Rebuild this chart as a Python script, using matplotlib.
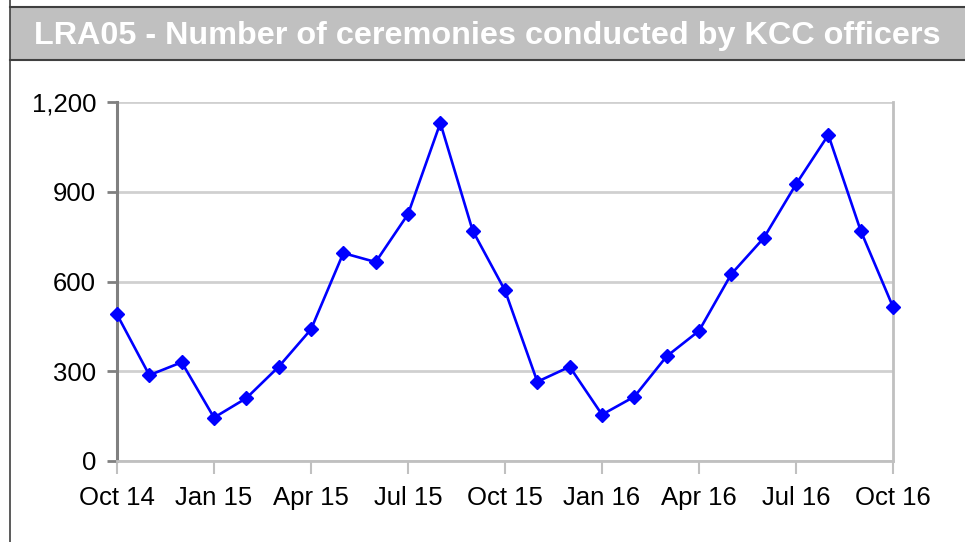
import numpy as np
import matplotlib.pyplot as plt
from matplotlib.patches import Rectangle
from matplotlib.lines import Line2D
from matplotlib.ticker import FuncFormatter

plt.rcParams['font.family'] = ['Liberation Sans', 'DejaVu Sans']

title = 'LRA05 - Number of ceremonies conducted by KCC officers'
months = ['Oct 14', 'Nov 14', 'Dec 14', 'Jan 15', 'Feb 15', 'Mar 15', 'Apr 15',
          'May 15', 'Jun 15', 'Jul 15', 'Aug 15', 'Sep 15', 'Oct 15', 'Nov 15',
          'Dec 15', 'Jan 16', 'Feb 16', 'Mar 16', 'Apr 16', 'May 16', 'Jun 16',
          'Jul 16', 'Aug 16', 'Sep 16', 'Oct 16']
ceremonies = [490, 287, 330, 145, 210, 315, 440, 695, 665, 825, 1130, 770, 570,
              265, 315, 155, 215, 350, 435, 625, 745, 925, 1090, 770, 515]
y_ticks = [0, 300, 600, 900, 1200]

fig = plt.figure(figsize=(9.65, 5.42), dpi=100)
W, H = 965, 542

# title bar
fig.patches.append(Rectangle((10 / W, 1 - 60 / H), 1, 53 / H,
                             transform=fig.transFigure, facecolor='#c0c0c0',
                             edgecolor='none'))
fig.lines.append(Line2D([10 / W, 1], [1 - 7 / H, 1 - 7 / H],
                        transform=fig.transFigure, color='#404040', lw=1.5))
fig.lines.append(Line2D([10 / W, 1], [1 - 60 / H, 1 - 60 / H],
                        transform=fig.transFigure, color='#404040', lw=1.5))
fig.lines.append(Line2D([10 / W, 10 / W], [0, 1],
                        transform=fig.transFigure, color='#404040', lw=1.2))
fig.text(487 / W, 1 - 36 / H, title, ha='center', va='center',
         color='white', fontsize=23.3, fontweight='bold')

ax = fig.add_axes([117 / W, 1 - 461 / H, (893 - 117) / W, (461 - 102) / H])
x = np.arange(len(months))
ax.plot(x, ceremonies, color='#0000ff', lw=1.9, marker='D', markersize=7.5,
        zorder=3, clip_on=False)

ax.set_xlim(0, len(months) - 1)
ax.set_ylim(0, 1200)
ax.set_yticks(y_ticks)
ax.yaxis.set_major_formatter(FuncFormatter(lambda v, p: f'{int(v):,}'))
ax.set_xticks(x[::3])
ax.set_xticklabels(months[::3])
ax.grid(axis='y', color='#d0d0d0', lw=2)
ax.set_axisbelow(True)

for side in ['top', 'right', 'bottom']:
    ax.spines[side].set_color('#c0c0c0')
    ax.spines[side].set_linewidth(2)
ax.spines['top'].set_visible(False)
ax.spines['left'].set_color('#808080')
ax.spines['left'].set_linewidth(2.2)
ax.tick_params(axis='y', length=7, width=2, color='#808080', pad=8,
               labelsize=18.5)
ax.tick_params(axis='x', length=9, width=1.5, color='#c0c0c0', pad=9,
               labelsize=18.5)

fig.savefig('out.png', dpi=100)
